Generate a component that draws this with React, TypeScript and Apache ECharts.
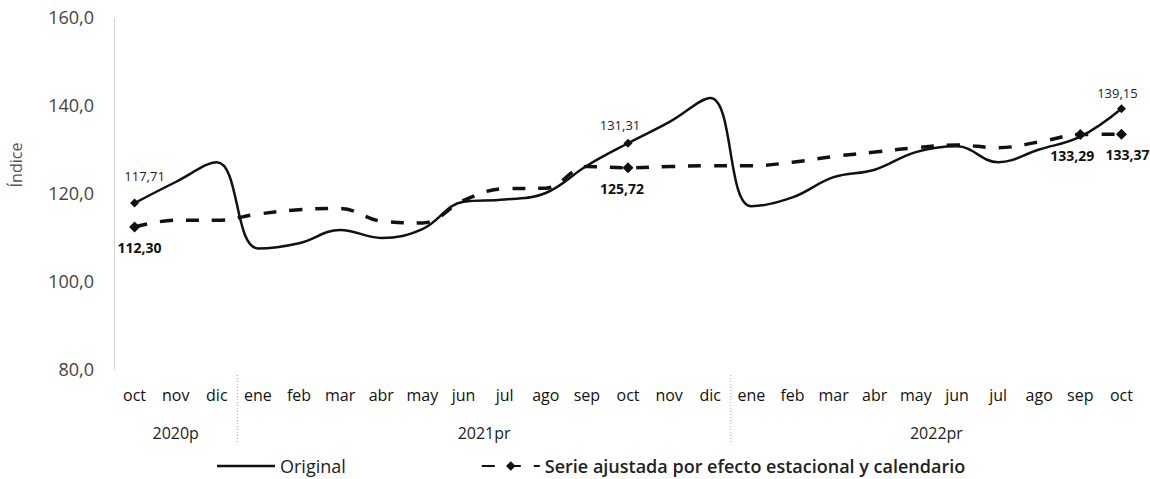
import React, { useEffect, useRef } from "react";
import * as echarts from "echarts";

const months = [
  "oct", "nov", "dic",
  "ene", "feb", "mar", "abr", "may", "jun", "jul", "ago", "sep", "oct", "nov", "dic",
  "ene", "feb", "mar", "abr", "may", "jun", "jul", "ago", "sep", "oct",
];
const yearNames = ["2020p", "2021pr", "2022pr"];
const yearBreakIndex = [3, 15];

const original = [
  117.71, 122.5, 127.0,
  107.4, 108.6, 111.6, 109.8, 111.8, 118.0, 118.5, 120.0, 126.2, 131.31, 136.1, 141.6,
  117.0, 119.0, 123.6, 125.3, 129.3, 130.6, 127.0, 129.9, 132.8, 139.15,
];
const seasonal = [
  112.3, 113.8, 113.8,
  115.2, 116.2, 116.5, 113.6, 113.2, 118.3, 121.0, 121.1, 126.0, 125.72, 126.0, 126.2,
  126.2, 127.0, 128.3, 129.3, 130.3, 130.9, 130.3, 131.6, 133.29, 133.37,
];
const originalMarked = [0, 12, 24];
const seasonalMarked = [0, 12, 23, 24];

const yTicks = { min: 80, max: 160, interval: 20 };
const FONT = "'Open Sans', 'Noto Sans', sans-serif";

const fmt = (v: number) => v.toFixed(2).replace(".", ",");

export default function App() {
  const ref = useRef<HTMLDivElement>(null);
  useEffect(() => {
    document.body.style.margin = "0";
    const chart = echarts.init(ref.current!, undefined, { renderer: "svg" });
    const origLabel: Record<number, any> = {
      0: { distance: 16, offset: [10, 0] },
      12: { distance: 7, offset: [-8, 0] },
      24: { distance: 5, offset: [-4, 0] },
    };
    const saLabel: Record<number, any> = {
      0: { offset: [5, 0] },
      12: { offset: [-6, 0] },
      23: { offset: [-8, 0] },
      24: { offset: [6, 0] },
    };
    const origData = original.map((v, i) =>
      originalMarked.includes(i)
        ? {
            value: v,
            symbol: "diamond",
            symbolSize: 9,
            label: {
              show: true,
              position: "top",
              distance: origLabel[i].distance,
              offset: origLabel[i].offset,
              fontSize: 13,
              color: "#222",
              fontFamily: FONT,
              formatter: (p: any) => fmt(p.value),
            },
          }
        : { value: v }
    );
    const saData = seasonal.map((v, i) =>
      seasonalMarked.includes(i)
        ? {
            value: v,
            symbol: "diamond",
            symbolSize: 11,
            label: {
              show: true,
              position: "bottom",
              distance: 8,
              offset: saLabel[i].offset,
              fontSize: 14,
              fontWeight: "bold",
              color: "#111",
              fontFamily: FONT,
              formatter: (p: any) => fmt(p.value),
            },
          }
        : { value: v, symbol: "none" }
    );
    chart.setOption({
      animation: false,
      backgroundColor: "#fff",
      textStyle: { fontFamily: FONT },
      grid: { left: 110, right: 8, top: 17, bottom: 110 },
      legend: {
        left: 212,
        top: 452,
        itemWidth: 58,
        itemHeight: 12,
        itemGap: 135,
        textStyle: { fontSize: 18, color: "#222", fontFamily: FONT },
        data: [
          { name: "Original", icon: "path://M0,0L58,0L58,2.5L0,2.5Z" },
          { name: "Serie ajustada por efecto estacional y calendario", textStyle: { fontWeight: 600 } },
        ],
      },
      xAxis: [
        {
          type: "category",
          data: months,
          boundaryGap: true,
          axisLine: { show: false },
          axisTick: { show: false },
          axisLabel: { interval: 0, margin: 18, fontSize: 16, color: "#111", fontFamily: FONT },
        },
      ],
      yAxis: {
        type: "value",
        min: yTicks.min,
        max: yTicks.max,
        interval: yTicks.interval,
        name: "Índice",
        nameLocation: "middle",
        nameGap: 90,
        nameTextStyle: { fontSize: 16, color: "#555", fontFamily: FONT, padding: [0, 0, 0, 56] },
        axisLine: { show: true, lineStyle: { color: "#ccc", type: "dotted" } },
        axisTick: { show: false },
        splitLine: { show: false },
        axisLabel: {
          margin: 20,
          fontSize: 18,
          color: "#444",
          fontFamily: FONT,
          formatter: (v: number) => v.toFixed(1).replace(".", ","),
        },
      },
      series: [
        {
          name: "Original",
          type: "line",
          smooth: 0.4,
          symbol: "none",
          data: origData,
          lineStyle: { color: "#111", width: 2.5 },
          itemStyle: { color: "#111" },
          z: 3,
        },
        {
          name: "Serie ajustada por efecto estacional y calendario",
          type: "line",
          smooth: 0.4,
          symbol: "diamond",
          symbolSize: 11,
          data: saData,
          lineStyle: { color: "#111", width: 3.5, type: [13, 13] },
          itemStyle: { color: "#111" },
          z: 2,
        },
      ],
    });
    const gridBottom = chart.convertToPixel({ yAxisIndex: 0 }, yTicks.min) as number;
    const bounds = [0, ...yearBreakIndex, months.length];
    const half = ((chart.convertToPixel({ xAxisIndex: 0 }, 1) as number) -
      (chart.convertToPixel({ xAxisIndex: 0 }, 0) as number)) / 2;
    const edge = (i: number) =>
      i >= months.length
        ? (chart.convertToPixel({ xAxisIndex: 0 }, months.length - 1) as number) + half
        : (chart.convertToPixel({ xAxisIndex: 0 }, i) as number) - half;
    const graphics: any[] = yearBreakIndex.map((i) => {
      const x = edge(i);
      return {
        type: "line",
        shape: { x1: x, y1: gridBottom + 6, x2: x, y2: gridBottom + 75 },
        style: { stroke: "#aaa", lineWidth: 1, lineDash: [1, 2] },
      };
    });
    yearNames.forEach((name, k) => {
      const x = (edge(bounds[k]) + edge(bounds[k + 1])) / 2;
      graphics.push({
        type: "text",
        x,
        y: gridBottom + 64,
        style: {
          text: name,
          fontSize: 16,
          fill: "#222",
          fontFamily: FONT,
          align: "center",
          verticalAlign: "middle",
        },
      });
    });
    chart.setOption({ graphic: graphics });
    return () => chart.dispose();
  }, []);
  return <div ref={ref} style={{ width: 1150, height: 479 }} />;
}
